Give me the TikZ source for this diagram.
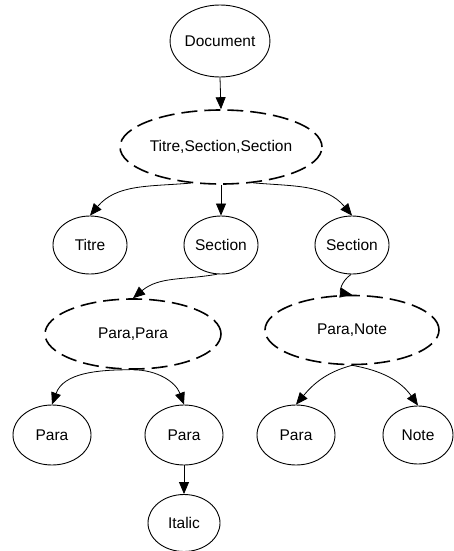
\documentclass[tikz,border=0pt]{standalone}
\usepackage{fontspec}
\setmainfont{Liberation Sans}
\usetikzlibrary{shapes.geometric,arrows.meta}
\begin{document}
\begin{tikzpicture}[x=1pt,y=-1pt,
  solidell/.style={ellipse,draw,line width=0.9pt,inner sep=0pt,font=\fontsize{15.5}{18}\selectfont},
  dashell/.style={ellipse,draw,line width=1.6pt,dash pattern=on 16pt off 7pt,inner sep=0pt,font=\fontsize{15.5}{18}\selectfont},
  arr/.style={-{Triangle[length=12pt,width=10pt]},line width=0.8pt}]
\useasboundingbox (0,0) rectangle (454,551);
\node[solidell,minimum width=88pt,minimum height=72pt] (doc) at (220,41) {Document};
\node[dashell,minimum width=202pt,minimum height=74pt] (tss) at (221,147) {Titre,Section,Section};
\node[solidell,minimum width=74pt,minimum height=58pt] (titre) at (90,245) {Titre};
\node[solidell,minimum width=74pt,minimum height=58pt] (secm) at (221,245) {Section};
\node[solidell,minimum width=74pt,minimum height=58pt] (secr) at (352,245) {Section};
\node[dashell,minimum width=176pt,minimum height=70pt] (pp) at (133,334) {Para,Para};
\node[dashell,minimum width=174pt,minimum height=69pt] (pn) at (352,330) {Para,Note};
\node[solidell,minimum width=78pt,minimum height=60pt] (p1) at (52,435) {Para};
\node[solidell,minimum width=78pt,minimum height=60pt] (p2) at (184,435) {Para};
\node[solidell,minimum width=78pt,minimum height=60pt] (p3) at (296,435) {Para};
\node[solidell,minimum width=70pt,minimum height=58pt] (note) at (418,435) {Note};
\node[solidell,minimum width=72pt,minimum height=57pt] (ital) at (184,523) {Italic};
\draw[arr] (doc.south) -- (tss.north);
\draw[arr] (tss.south) -- (secm.north);
\draw[arr] (tss.230) to[out=185,in=50] (titre.north);
\draw[arr] (tss.312) to[out=-5,in=130] (secr.north);
\draw[arr] (secm.262) to[out=190,in=40] (pp.north);
\draw[arr] (secr.268) to[out=215,in=170,looseness=1.6] (pn.north);
\draw[arr] (pp.265) to[out=180,in=70] (p1.north);
\draw[arr] (pp.270) to[out=0,in=110] (p2.north);
\draw[arr] (p2.south) -- (ital.north);
\draw[arr] (pn.270) to[out=195,in=50] (p3.north);
\draw[arr] (pn.270) to[out=-10,in=125] (note.north);
\end{tikzpicture}
\end{document}
